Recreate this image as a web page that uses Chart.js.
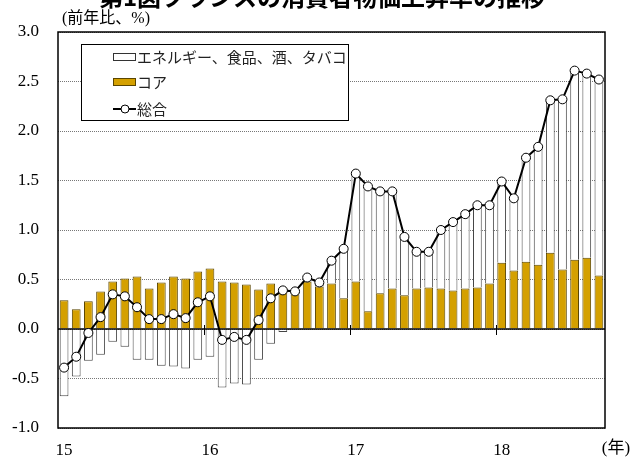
<!DOCTYPE html>
<html>
<head>
<meta charset="utf-8">
<script src="https://cdn.jsdelivr.net/npm/chart.js@4.4.0/dist/chart.umd.min.js"></script>
<style>
  body { margin: 0; background: #fff; }
  canvas { display: block; }
</style>
</head>
<body>
<canvas id="cpiChart" width="632" height="459"></canvas>
<script>
// monthly, Jan 2015 - Sep 2018 (y/y %)
const months = [
  '15/1','15/2','15/3','15/4','15/5','15/6','15/7','15/8','15/9','15/10','15/11','15/12',
  '16/1','16/2','16/3','16/4','16/5','16/6','16/7','16/8','16/9','16/10','16/11','16/12',
  '17/1','17/2','17/3','17/4','17/5','17/6','17/7','17/8','17/9','17/10','17/11','17/12',
  '18/1','18/2','18/3','18/4','18/5','18/6','18/7','18/8','18/9'
];
const yearLabels = ['15', '16', '17', '18'];

const core = [
  0.29, 0.20, 0.28, 0.38, 0.48, 0.51, 0.53, 0.41, 0.47, 0.53, 0.51, 0.58,
  0.61, 0.48, 0.47, 0.45, 0.40, 0.46, 0.42, 0.35, 0.48, 0.43, 0.46, 0.31,
  0.48, 0.18, 0.36, 0.41, 0.34, 0.41, 0.42, 0.41, 0.39, 0.41, 0.42, 0.46,
  0.67, 0.59, 0.68, 0.65, 0.77, 0.60, 0.70, 0.72, 0.54
];
// energy, food, alcohol, tobacco contribution
const energyFood = [
  -0.68, -0.48, -0.32, -0.26, -0.13, -0.18, -0.31, -0.31, -0.37, -0.38, -0.40, -0.31,
  -0.28, -0.59, -0.55, -0.56, -0.31, -0.15, -0.03, 0.03, 0.04, 0.04, 0.23, 0.50,
  1.09, 1.26, 1.03, 0.98, 0.59, 0.37, 0.36, 0.59, 0.69, 0.75, 0.83, 0.79,
  0.82, 0.73, 1.05, 1.19, 1.54, 1.72, 1.91, 1.86, 1.98
];
const total = [
  -0.39, -0.28, -0.04, 0.12, 0.35, 0.33, 0.22, 0.10, 0.10, 0.15, 0.11, 0.27,
  0.33, -0.11, -0.08, -0.11, 0.09, 0.31, 0.39, 0.38, 0.52, 0.47, 0.69, 0.81,
  1.57, 1.44, 1.39, 1.39, 0.93, 0.78, 0.78, 1.00, 1.08, 1.16, 1.25, 1.25,
  1.49, 1.32, 1.73, 1.84, 2.31, 2.32, 2.61, 2.58, 2.52
];

const GOLD = '#d4a000';
const serif = '"Liberation Serif", "Noto Sans CJK JP", serif';
const jp = '"Noto Sans CJK JP", sans-serif';

const extras = {
  id: 'extras',
  beforeDatasetDraw(chart, args) {
    if (args.index !== 2) return;
    // zero line + year separators, drawn under the total line
    const ctx = chart.ctx, area = chart.chartArea;
    const x = chart.scales.x, y = chart.scales.y;
    const y0 = y.getPixelForValue(0);
    ctx.save();
    ctx.strokeStyle = '#000';
    ctx.lineWidth = 1.5;
    ctx.beginPath();
    ctx.moveTo(area.left, y0);
    ctx.lineTo(area.right, y0);
    ctx.stroke();
    ctx.lineWidth = 1;
    for (let i = 12; i < months.length; i += 12) {
      const xs = (x.getPixelForValue(i - 1) + x.getPixelForValue(i)) / 2;
      ctx.beginPath();
      ctx.moveTo(Math.round(xs) + 0.5, y0 - 4);
      ctx.lineTo(Math.round(xs) + 0.5, y0 + 6);
      ctx.stroke();
    }
    ctx.restore();
  },
  afterDraw(chart) {
    const ctx = chart.ctx, area = chart.chartArea;
    ctx.save();
    // frame
    ctx.strokeStyle = '#000';
    ctx.lineWidth = 1.5;
    ctx.strokeRect(area.left, area.top, area.right - area.left, area.bottom - area.top);

    // title (cut at top edge)
    ctx.fillStyle = '#000';
    ctx.font = 'bold 24px ' + jp;
    ctx.textAlign = 'center';
    ctx.textBaseline = 'ideographic';
    ctx.fillText('第1図フランスの消費者物価上昇率の推移', 322, 9);

    // unit labels
    ctx.font = '16px ' + serif;
    ctx.textAlign = 'left';
    ctx.textBaseline = 'middle';
    ctx.fillText('(前年比、%)', 62, 19);
    ctx.font = '17px ' + serif;
    ctx.textAlign = 'center';
    ctx.fillText('(年)', 616, 449);

    // legend
    ctx.fillStyle = '#fff';
    ctx.fillRect(81.5, 44.5, 267, 76);
    ctx.lineWidth = 1;
    ctx.strokeStyle = '#000';
    ctx.strokeRect(81.5, 44.5, 267, 76);

    ctx.fillStyle = '#fff';
    ctx.strokeStyle = '#333';
    ctx.fillRect(113.5, 53.5, 22, 7);
    ctx.strokeRect(113.5, 53.5, 22, 7);
    ctx.fillStyle = GOLD;
    ctx.strokeStyle = '#5a4500';
    ctx.fillRect(113.5, 78.5, 22, 7);
    ctx.strokeRect(113.5, 78.5, 22, 7);

    ctx.strokeStyle = '#000';
    ctx.lineWidth = 2;
    ctx.beginPath();
    ctx.moveTo(113, 109);
    ctx.lineTo(136, 109);
    ctx.stroke();
    ctx.lineWidth = 1;
    ctx.fillStyle = '#fff';
    ctx.beginPath();
    ctx.arc(125, 109, 4, 0, Math.PI * 2);
    ctx.fill();
    ctx.stroke();

    ctx.fillStyle = '#222';
    ctx.font = '15px ' + jp;
    ctx.textAlign = 'left';
    ctx.textBaseline = 'middle';
    ctx.fillText('エネルギー、食品、酒、タバコ', 137, 57);
    ctx.fillText('コア', 137, 82);
    ctx.fillText('総合', 137, 109);
    ctx.restore();
  }
};

const ctx = document.getElementById('cpiChart').getContext('2d');
const chart = new Chart(ctx, {
  type: 'bar',
  data: {
    labels: months,
    datasets: [
      {
        label: 'コア',
        data: core,
        backgroundColor: GOLD,
        borderColor: '#5a4500',
        borderWidth: 1,
        barPercentage: 0.72,
        categoryPercentage: 1,
        order: 1
      },
      {
        label: 'エネルギー、食品、酒、タバコ',
        data: energyFood,
        backgroundColor: '#fff',
        borderColor: '#444',
        borderWidth: 1,
        barPercentage: 0.72,
        categoryPercentage: 1,
        order: 1
      },
      {
        type: 'line',
        label: '総合',
        data: total,
        stack: 'total',
        borderColor: '#000',
        borderWidth: 2,
        pointRadius: 4.5,
        pointBackgroundColor: '#fff',
        pointBorderColor: '#000',
        pointBorderWidth: 1,
        tension: 0,
        order: 0
      }
    ]
  },
  options: {
    responsive: false,
    animation: false,
    layout: { padding: { top: 32, right: 27, left: 0, bottom: 0 } },
    plugins: {
      legend: { display: false },
      tooltip: { enabled: false },
      title: { display: false }
    },
    scales: {
      x: {
        stacked: true,
        grid: { display: false, drawTicks: false },
        border: { display: false },
        ticks: {
          autoSkip: false,
          maxRotation: 0,
          padding: 12,
          color: '#000',
          font: { family: serif, size: 17 },
          callback: (v, i) => (i % 12 === 0 ? yearLabels[i / 12] : '')
        },
        afterFit: (s) => { s.height = 31; }
      },
      y: {
        stacked: true,
        min: -1,
        max: 3,
        grid: { color: '#777', lineWidth: 1, drawTicks: false },
        border: { display: false, dash: [1, 1] },
        ticks: {
          stepSize: 0.5,
          padding: 19,
          color: '#000',
          font: { family: serif, size: 17 },
          callback: (v) => v.toFixed(1)
        },
        afterFit: (s) => { s.width = 58; }
      }
    }
  },
  plugins: [extras]
});
</script>
</body>
</html>
